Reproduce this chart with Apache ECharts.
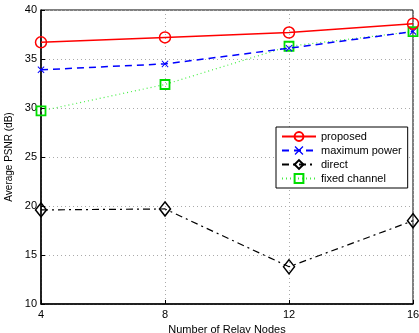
<!DOCTYPE html>
<html><head><meta charset="utf-8">
<script src="https://cdn.jsdelivr.net/npm/echarts@6/dist/echarts.min.js"></script>
<style>html,body{margin:0;padding:0;background:#fff}#c{width:419px;height:333px}</style>
</head><body><div id="c"></div>
<script>
const relayNodes = [4, 8, 12, 16];
const proposed = [36.7, 37.2, 37.7, 38.6];
const maximumPower = [33.9, 34.5, 36.1, 37.8];
const direct = [19.6, 19.7, 13.8, 18.5];
const fixedChannel = [29.7, 32.4, 36.3, 37.8];
const yTicks = [10, 15, 20, 25, 30, 35, 40];

const pair = arr => relayNodes.map((x, i) => [x, arr[i]]);
const xPath = 'path://M0,1 L1,0 L5,4 L9,0 L10,1 L6,5 L10,9 L9,10 L5,6 L1,10 L0,9 L4,5 Z';
const font = 'Liberation Sans, Arial, sans-serif';

const chart = echarts.init(document.getElementById('c'), null, {renderer: 'canvas'});
chart.setOption({
  animation: false,
  backgroundColor: '#fff',
  grid: {left: 41, right: 6, top: 10, bottom: 29, show: true, borderColor: '#000', borderWidth: 1,
         containLabel: false, outerBoundsMode: 'none'},
  xAxis: {
    type: 'value', min: 4, max: 16, interval: 4,
    name: 'Number of Relay Nodes', nameLocation: 'middle', nameGap: 18,
    nameTextStyle: {fontFamily: font, fontSize: 11, color: '#000'},
    axisLine: {lineStyle: {color: '#000', width: 1.5}},
    axisTick: {inside: true, length: 4, lineStyle: {color: '#000'}},
    axisLabel: {fontFamily: font, fontSize: 11, color: '#000', margin: 5},
    splitLine: {show: true, lineStyle: {color: '#aaa', type: [1, 3], width: 1}}
  },
  yAxis: {
    type: 'value', min: yTicks[0], max: yTicks[yTicks.length - 1], interval: 5,
    name: 'Average PSNR (dB)', nameLocation: 'middle', nameGap: 27,
    nameTextStyle: {fontFamily: font, fontSize: 10, color: '#000'},
    axisLine: {lineStyle: {color: '#000', width: 1.5}},
    axisTick: {inside: true, length: 4, lineStyle: {color: '#000'}},
    axisLabel: {fontFamily: font, fontSize: 11, color: '#000', margin: 4},
    splitLine: {show: true, lineStyle: {color: '#aaa', type: [1, 3], width: 1}}
  },
  legend: {
    orient: 'vertical', left: 276, top: 127,
    backgroundColor: '#fff', borderColor: '#000', borderWidth: 1,
    padding: [4, 6, 4, 5], itemGap: 3, itemWidth: 34, itemHeight: 11,
    textStyle: {fontFamily: font, fontSize: 11, color: '#000', padding: [0, 0, 0, 0]},
    data: ['proposed', 'maximum power', 'direct', 'fixed channel']
  },
  series: [
    {name: 'proposed', type: 'line', data: pair(proposed), symbol: 'circle', symbolSize: 11,
     lineStyle: {color: '#ff0000', width: 1.5}, itemStyle: {color: 'rgba(255,255,255,0)', borderColor: '#ff0000', borderWidth: 1.5}, z: 5},
    {name: 'maximum power', type: 'line', data: pair(maximumPower), symbol: xPath, symbolSize: 7,
     lineStyle: {color: '#0000ff', width: 1.5, type: [7, 5]}, itemStyle: {color: '#0000ff', borderWidth: 0}, z: 4},
    {name: 'direct', type: 'line', data: pair(direct), symbol: 'diamond', symbolSize: [11, 14],
     lineStyle: {color: '#000', width: 1.2, type: [7, 4, 2, 4]}, itemStyle: {color: 'rgba(255,255,255,0)', borderColor: '#000', borderWidth: 1.5}, z: 3},
    {name: 'fixed channel', type: 'line', data: pair(fixedChannel), symbol: 'rect', symbolSize: 9,
     lineStyle: {color: '#44ee44', width: 1.2, type: [1, 3]}, itemStyle: {color: 'rgba(255,255,255,0)', borderColor: '#00dd00', borderWidth: 1.8}, z: 3}
  ]
});
</script></body></html>
